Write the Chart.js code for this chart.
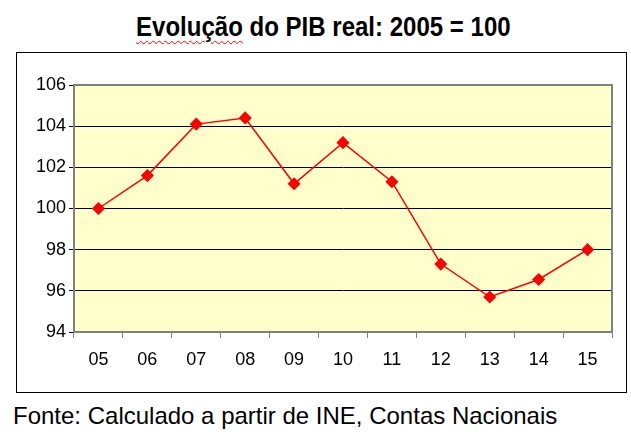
<!DOCTYPE html>
<html>
<head>
<meta charset="utf-8">
<script src="https://cdn.jsdelivr.net/npm/chart.js@4/dist/chart.umd.min.js"></script>
<style>
  body { margin: 0; background: #fff; width: 631px; height: 435px; position: relative; overflow: hidden; }
  #titulo { position: absolute; left: 136px; top: 12px; white-space: nowrap;
            font: bold 27px "Liberation Sans", Arial, sans-serif; color: #000;
            transform: scaleX(0.89); transform-origin: left top; }
  #titulo span { text-decoration: underline wavy red; text-decoration-thickness: 1px; text-underline-offset: 4px; }
  #caixa { position: absolute; left: 16px; top: 52px; width: 609px; height: 339px; border: 1px solid #000; }
  #caixa canvas { display: block; }
  #fonte { position: absolute; left: 13px; top: 402px;
           font: 24px "Liberation Sans", Arial, sans-serif; color: #000; }
</style>
</head>
<body>
<div id="titulo"><span>Evolução</span> do PIB real: 2005 = 100</div>
<div id="caixa"><canvas id="pibChart" width="609" height="339"></canvas></div>
<div id="fonte">Fonte: Calculado a partir de INE, Contas Nacionais</div>
<script>
// dados
const anos = ['05', '06', '07', '08', '09', '10', '11', '12', '13', '14', '15'];
const pib = [100.0, 101.6, 104.1, 104.4, 101.2, 103.2, 101.3, 97.3, 95.7, 96.55, 98.0];

// fundo amarelo e moldura cinzenta da área do gráfico
const moldura = {
    id: 'moldura',
    beforeDraw(chart) {
        const a = chart.chartArea, ctx = chart.ctx;
        ctx.save();
        ctx.fillStyle = '#FFFFCC';
        ctx.fillRect(a.left, a.top, a.right - a.left, a.bottom - a.top);
        ctx.restore();
    },
    beforeDatasetsDraw(chart) {
        const ctx = chart.ctx, c = chart.chartArea;
        ctx.save();
        ctx.strokeStyle = '#808080';
        ctx.lineWidth = 2;
        ctx.beginPath();
        ctx.moveTo(c.left, c.top);
        ctx.lineTo(c.right, c.top);
        ctx.lineTo(c.right, c.bottom);
        ctx.stroke();
        ctx.restore();
    }
};

const pibChart = new Chart(document.getElementById('pibChart'), {
    type: 'line',
    data: {
        labels: anos,
        datasets: [{
            label: 'PIB real',
            data: pib,
            borderColor: '#FF0000',
            backgroundColor: '#FF0000',
            borderWidth: 1.5,
            pointStyle: 'rectRot',
            pointRadius: 5.5,
            pointHoverRadius: 5.5,
            tension: 0
        }]
    },
    options: {
        responsive: false,
        animation: false,
        devicePixelRatio: 1,
        layout: { padding: { top: 32, right: 14, bottom: 0, left: 0 } },
        plugins: {
            legend: { display: false },
            tooltip: { enabled: false }
        },
        scales: {
            x: {
                offset: true,
                grid: { offset: true, drawOnChartArea: false, drawTicks: true, tickLength: 6, color: '#808080', lineWidth: 1 },
                border: { color: '#808080', width: 2 },
                ticks: { color: '#000', padding: 11, maxRotation: 0, autoSkip: false,
                         font: { family: 'Liberation Sans', size: 18 } },
                afterFit(scale) { scale.height = 60; }
            },
            y: {
                min: 94,
                max: 106,
                ticks: { stepSize: 2, color: '#000', padding: 3, font: { family: 'Liberation Sans', size: 18 } },
                grid: { color: '#000', lineWidth: 1, tickLength: 5, drawTicks: true },
                border: { color: '#808080', width: 2 },
                afterFit(scale) { scale.width = 57; }
            }
        }
    },
    plugins: [moldura]
});
</script>
</body>
</html>
